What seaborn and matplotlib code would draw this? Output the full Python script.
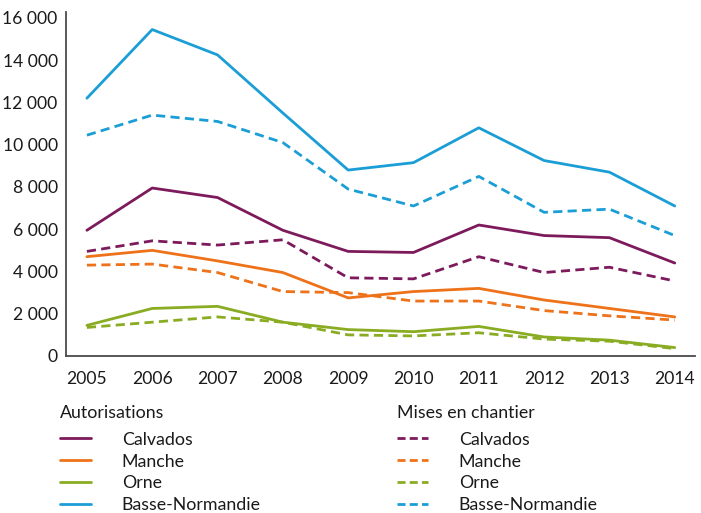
import matplotlib
matplotlib.use("Agg")
import matplotlib.pyplot as plt
import seaborn as sns
import pandas as pd
from matplotlib.lines import Line2D
from matplotlib.ticker import FuncFormatter

years = [2005, 2006, 2007, 2008, 2009, 2010, 2011, 2012, 2013, 2014]
regions = ["Calvados", "Manche", "Orne", "Basse-Normandie"]
types = ["Autorisations", "Mises en chantier"]

aut_calvados = [5950, 7950, 7500, 5950, 4950, 4900, 6200, 5700, 5600, 4400]
aut_manche = [4700, 5000, 4500, 3950, 2750, 3050, 3200, 2650, 2250, 1850]
aut_orne = [1450, 2250, 2350, 1600, 1250, 1150, 1400, 900, 750, 400]
aut_bn = [12200, 15450, 14250, 11500, 8800, 9150, 10800, 9250, 8700, 7100]

mec_calvados = [4950, 5450, 5250, 5500, 3700, 3650, 4700, 3950, 4200, 3550]
mec_manche = [4300, 4350, 3950, 3050, 3000, 2600, 2600, 2150, 1900, 1700]
mec_orne = [1350, 1600, 1850, 1600, 1000, 950, 1100, 800, 700, 350]
mec_bn = [10450, 11400, 11100, 10100, 7900, 7100, 8500, 6800, 6950, 5700]

y_ticks = [0, 2000, 4000, 6000, 8000, 10000, 12000, 14000, 16000]

colors = {"Calvados": "#7d1a5c", "Manche": "#ee7219", "Orne": "#8aac22",
          "Basse-Normandie": "#1b9ed6"}

series = {
    ("Autorisations", "Calvados"): aut_calvados,
    ("Autorisations", "Manche"): aut_manche,
    ("Autorisations", "Orne"): aut_orne,
    ("Autorisations", "Basse-Normandie"): aut_bn,
    ("Mises en chantier", "Calvados"): mec_calvados,
    ("Mises en chantier", "Manche"): mec_manche,
    ("Mises en chantier", "Orne"): mec_orne,
    ("Mises en chantier", "Basse-Normandie"): mec_bn,
}
rows = []
for (t, r), vals in series.items():
    for y, v in zip(years, vals):
        rows.append({"Année": y, "Valeur": v, "Région": r, "Type": t})
df = pd.DataFrame(rows)

sns.set_theme(style="white")
plt.rcParams["font.family"] = ["Lato", "DejaVu Sans"]

fig = plt.figure(figsize=(7.01, 5.13), dpi=100)
ax = fig.add_axes([66 / 701, (513 - 356) / 513, (695 - 66) / 701, (356 - 12) / 513])

dash_pat = (3.3, 1.9)
sns.lineplot(data=df, x="Année", y="Valeur", hue="Région", style="Type",
             hue_order=regions, style_order=types, palette=colors,
             dashes={"Autorisations": "", "Mises en chantier": dash_pat},
             linewidth=2.0, legend=False, ax=ax)

x_left = 2004.68
ax.set_xlim(x_left, 2014.31)
ax.set_ylim(0, 16280)
ax.set_xticks(years)
ax.set_xticklabels([str(y) for y in years])
ax.set_xticks([x_left], minor=True)
ax.set_yticks(y_ticks)
ax.yaxis.set_major_formatter(FuncFormatter(lambda v, p: f"{v:,.0f}".replace(",", " ")))
ax.set_xlabel("")
ax.set_ylabel("")
for s in ["top", "right"]:
    ax.spines[s].set_visible(False)
for s in ["left", "bottom"]:
    ax.spines[s].set_color("#4a4a4a")
    ax.spines[s].set_linewidth(1.3)
ax.tick_params(axis="both", which="major", length=0, labelsize=12.6, colors="#1a1a1a")
ax.tick_params(axis="x", which="minor", length=6, width=1.3, color="#4a4a4a",
               direction="out", labelbottom=False)
ax.tick_params(axis="y", pad=6)
ax.tick_params(axis="x", which="major", pad=11)

handle_dash = (2.9, 1.5)

def make_handles(dashed):
    hs = []
    for r in regions:
        if dashed:
            hs.append(Line2D([0], [0], color=colors[r], lw=2.0, dashes=handle_dash))
        else:
            hs.append(Line2D([0], [0], color=colors[r], lw=2.0))
    return hs

fs = 12.8
leg_kw = dict(frameon=False, fontsize=fs, title_fontsize=fs, handlelength=1.75,
              handletextpad=1.72, labelspacing=0.33, alignment="left",
              loc="upper left", borderaxespad=0, borderpad=0)
leg1 = fig.legend(make_handles(False), regions, title="Autorisations",
                  bbox_to_anchor=(60 / 701, 1 - 405 / 513), **leg_kw)
leg2 = fig.legend(make_handles(True), regions, title="Mises en chantier",
                  bbox_to_anchor=(397 / 701, 1 - 405 / 513), **leg_kw)
for leg in (leg1, leg2):
    leg._legend_box.sep = 0.6 * fs
    leg.get_title().set_color("#1a1a1a")
    for t in leg.get_texts():
        t.set_color("#1a1a1a")

fig.savefig("out.png", dpi=100)
